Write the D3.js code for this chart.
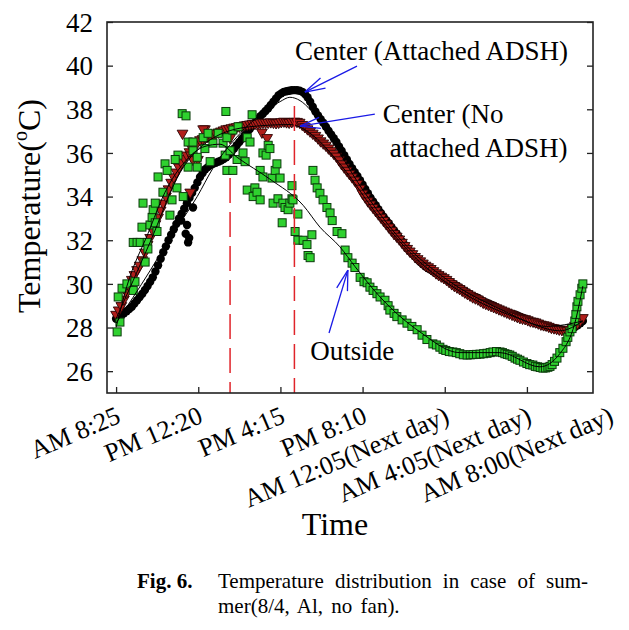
<!DOCTYPE html>
<html><head><meta charset="utf-8">
<script src="https://cdn.jsdelivr.net/npm/d3@7"></script>
<style>
body{margin:0;background:#fff}
svg{display:block}
svg text{font-family:"Liberation Serif","Times New Roman",serif !important;fill:#000}
</style>
</head><body>
<svg id="c" width="629" height="630"></svg>
<script>
// ---------------- data ----------------
const tickLabels = ["AM 8:25","PM 12:20","PM 4:15","PM 8:10","AM 12:05(Next day)","AM 4:05(Next day)","AM 8:00(Next day)"];
const tickMinutes = [0,235,470,705,940,1175,1410];
const yTicks = [26,28,30,32,34,36,38,40,42];

// sample times (minutes after AM 8:25)
const minutes = [0,7.5,15,22.5,30,37.5,45,52.5,60,67.5,75,82.5,90,97.5,105,112.5,120,127.5,135,142.5,150,157.5,165,172.5,180,187.5,195,202.5,210,217.5,225,232.5,240,247.5,255,262.5,270,277.5,285,292.5,300,307.5,315,322.5,330,337.5,345,352.5,360,367.5,375,382.5,390,397.5,405,412.5,420,427.5,435,442.5,450,457.5,465,472.5,480,487.5,495,502.5,510,517.5,525,532.5,540,547.5,555,562.5,570,577.5,585,592.5,600,607.5,615,622.5,630,637.5,645,652.5,660,667.5,675,682.5,690,697.5,705,712.5,720,727.5,735,742.5,750,757.5,765,772.5,780,787.5,795,802.5,810,817.5,825,832.5,840,847.5,855,862.5,870,877.5,885,892.5,900,907.5,915,922.5,930,937.5,945,952.5,960,967.5,975,982.5,990,997.5,1005,1012.5,1020,1027.5,1035,1042.5,1050,1057.5,1065,1072.5,1080,1087.5,1095,1102.5,1110,1117.5,1125,1132.5,1140,1147.5,1155,1162.5,1170,1177.5,1185,1192.5,1200,1207.5,1215,1222.5,1230,1237.5,1245,1252.5,1260,1267.5,1275,1282.5,1290,1297.5,1305,1312.5,1320,1327.5,1335];

const centerAttached = [
28.4,28.48,28.55,28.65,28.75,28.85,28.95,29.1,29.25,29.4,29.55,29.72,29.9,30.1,30.3,30.57,30.85,31.15,31.45,31.72,
32.0,32.25,32.5,32.75,33.0,33.22,33.45,33.7,33.95,34.17,34.4,34.65,34.9,35.08,35.25,35.35,35.45,35.5,35.55,35.6,
35.65,35.72,35.8,35.92,36.05,36.2,36.35,36.5,36.65,36.8,36.95,37.1,37.25,37.4,37.55,37.68,37.8,37.92,38.05,38.2,
38.35,38.5,38.65,38.73,38.8,38.83,38.85,38.87,38.88,38.87,38.85,38.8,38.7,38.55,38.35,38.12,37.9,37.72,37.55,37.38,
37.2,37.02,36.85,36.67,36.5,36.3,36.1,35.9,35.7,35.5,35.3,35.12,34.95,34.75,34.55,34.35,34.15,33.95,33.78,33.6,
33.42,33.25,33.08,32.92,32.78,32.6,32.45,32.3,32.1,31.95,31.8,31.65,31.5,31.37,31.25,31.12,31.0,30.9,30.8,30.72,
30.65,30.57,30.5,30.42,30.35,30.27,30.2,30.12,30.05,29.97,29.9,29.82,29.75,29.67,29.6,29.52,29.45,29.4,29.35,29.27,
29.2,29.15,29.1,29.05,29.0,28.92,28.85,28.8,28.75,28.7,28.65,28.62,28.6,28.55,28.5,28.45,28.4,28.35,28.3,28.25,
28.2,28.17,28.15,28.1,28.05,28.02,28.0,27.97,27.95,27.92,27.9,27.87,27.85,27.9,27.95,28.02,28.1,28.2,28.3];

const centerNoAttached = [
28.6,28.8,29.0,29.3,29.6,29.9,30.2,30.42,30.65,30.85,31.1,31.45,31.8,32.12,32.45,32.75,33.05,33.38,33.7,34.02,
34.35,34.65,34.9,35.12,35.35,35.55,35.75,35.9,36.05,36.2,36.35,36.48,36.6,36.65,36.7,36.75,36.8,36.85,36.9,36.95,
37.0,37.05,37.1,37.12,37.15,37.18,37.2,37.22,37.25,37.28,37.3,37.32,37.35,37.35,37.35,37.38,37.4,37.4,37.4,37.42,
37.4,37.38,37.4,37.43,37.45,37.42,37.4,37.43,37.45,37.44,37.4,37.3,37.2,37.1,37.0,36.9,36.8,36.68,36.55,36.45,
36.35,36.22,36.1,35.98,35.85,35.68,35.5,35.35,35.2,35.05,34.9,34.75,34.6,34.38,34.15,33.98,33.8,33.65,33.5,33.35,
33.2,33.05,32.9,32.75,32.6,32.45,32.3,32.18,32.05,31.9,31.75,31.62,31.5,31.38,31.25,31.15,31.05,30.95,30.85,30.78,
30.7,30.6,30.5,30.42,30.35,30.28,30.2,30.1,30.0,29.92,29.85,29.78,29.7,29.62,29.55,29.48,29.4,29.35,29.3,29.22,
29.15,29.1,29.05,29.0,28.95,28.9,28.85,28.8,28.75,28.7,28.65,28.6,28.55,28.5,28.45,28.42,28.4,28.35,28.3,28.28,
28.25,28.2,28.15,28.12,28.1,28.05,28.0,27.98,27.95,27.92,27.9,27.88,27.85,27.92,28.0,28.1,28.2,28.32,28.45];

// stray readings
const attachedStrayT = [203,209,206,220,186,199];
const attachedStrayV = [32.7,32.1,31.9,33.5,32.9,32.3];
const noAttachedStrayT = [212,214,254,326,417,432,220,234,249,190];
const noAttachedStrayV = [34.2,35.9,37.1,36.7,36.95,36.7,35.7,35.7,37.1,36.9];

const outsideT = [3,11,6,17,31,49,54,49,60,69,89,91,83,74,97,103,106,117,112,77,112,120,140,146,154,134,160,174,177,169,189,200,206,220,192,220,232,206,232,249,254,263,269,277,292,306,317,312,326,317,334,346,363,369,314,334,349,375,389,383,375,397,392,403,412,412,420,446,420,429,435,440,455,460,469,449,463,477,483,492,497,503,503,506,475,520,512,520,535,546,549,555,560,
563,569,575,583,592,603,612,618,632,646,655,663,675,683,698,709,718,726,735,746,755,769,778,783,795,803,818,832,846,861,875,889,906,916,926,935,943,953,963,973,983,993,1004,1013,1021,1031,1041,1051,1061,1070,1078,1088,1098,1105,1112,1119,1126,1133,1141,1148,1155,1165,1175,1183,1192,1199,1206,1213,1221,1228,1235,1241,1247,1254,1261,1269,1278,1287,1292,1298,1304,1312,1315,1318,1321,1327,1332,1335];
const outsideV = [27.8,28.25,29.4,29.8,30.0,29.7,30.1,31.9,31.9,31.9,31.9,31.6,31.0,32.6,32.7,33.05,33.4,32.4,32.8,33.7,33.7,34.9,35.5,35.2,33.15,34.2,33.85,34.4,35.9,35.7,37.8,37.7,36.5,36.5,34.0,36.1,35.8,35.35,35.35,36.7,36.2,36.9,35.6,36.45,36.9,36.45,36.7,35.9,36.1,35.2,35.2,35.7,36.0,35.6,37.9,37.05,37.2,36.7,37.75,36.5,34.3,34.4,34.0,34.2,33.85,35.2,34.9,34.85,36.0,35.9,36.35,36.2,35.2,35.5,34.85,33.7,33.9,33.7,33.5,33.4,33.7,34.5,33.9,33.85,32.8,33.2,32.4,32.0,32.0,31.8,31.3,31.2,32.25,
35.2,34.75,34.4,34.15,33.85,33.5,33.25,32.9,32.4,32.3,31.55,31.2,30.95,30.75,30.3,30.1,30.05,29.85,29.7,29.55,29.4,29.25,29.0,28.8,28.65,28.5,28.35,28.2,28.05,27.9,27.65,27.45,27.25,27.2,27.1,27.0,26.95,26.9,26.88,26.85,26.8,26.75,26.74,26.75,26.76,26.77,26.78,26.8,26.82,26.85,26.88,26.9,26.88,26.85,26.8,26.77,26.74,26.68,26.6,26.55,26.5,26.42,26.35,26.3,26.28,26.22,26.2,26.17,26.14,26.15,26.18,26.22,26.3,26.45,26.6,26.85,27.05,27.35,27.55,27.8,27.95,28.3,28.6,28.95,29.2,29.5,29.8,30.0];

// fitted trend curves (thin black lines)
const trendAttachedT = [0,97,154,232,277,355,412,469,497,526,557,592,706,821,946,1098,1232,1335];
const trendAttachedV = [28.2,30.6,32.1,34.0,35.3,36.9,37.75,38.35,38.55,38.4,37.95,37.2,34.3,31.9,30.2,28.85,28.05,28.3];
const trendNoAttachedT = [0,97,183,269,383,497,555,640,755,869,1012,1155,1269,1335];
const trendNoAttachedV = [28.4,31.9,35.1,36.6,37.2,37.3,36.9,35.5,33.0,31.0,29.4,28.4,27.85,28.3];
const trendOutsideT = [0,31,91,140,197,254,297,346,440,535,583,640,683,755,869,983,1098,1212,1269,1312,1335];
const trendOutsideV = [28.0,29.9,32.3,34.2,35.6,36.3,36.4,35.8,34.8,33.6,32.6,31.7,30.8,29.4,27.8,26.85,26.85,26.2,26.8,28.2,29.9];

// red dashed reference times and their top temperatures
const refTimes = [326,510];
const refTops = [34.85,38.15];

const seriesNames = ["Center (Attached ADSH)","Center (No","attached ADSH)","Outside"];

// ---------------- layout ----------------
const svg = d3.select("#c");
svg.append("rect").attr("width",629).attr("height",630).attr("fill","#fff");
const L = 107, R = 593, T = 22, B = 393;
const x = d3.scaleLinear().domain([-26,1364]).range([L,R]);
const y = d3.scaleLinear().domain([25,42]).range([B,T]);
const FONT = "Liberation Serif";

const g = svg.append("g");

// axes (ticks inward)
const yAxisL = g.append("g").attr("transform",`translate(${L},0)`)
  .call(d3.axisLeft(y).tickValues(yTicks).tickSize(-6).tickPadding(14).tickFormat(d3.format("d")));
yAxisL.attr("font-family",FONT);
yAxisL.select(".domain").remove();
yAxisL.selectAll("text").attr("font-size",27).attr("dy","0.34em");
yAxisL.selectAll("line").attr("stroke","#222").attr("stroke-width",1.3);

const yAxisR = g.append("g").attr("transform",`translate(${R},0)`)
  .call(d3.axisRight(y).tickValues(yTicks).tickSize(-6).tickFormat(""));
yAxisR.select(".domain").remove();
yAxisR.selectAll("line").attr("stroke","#222").attr("stroke-width",1.3);

const xAxis = g.append("g").attr("transform",`translate(0,${B})`)
  .call(d3.axisBottom(x).tickValues(tickMinutes.filter(t=>x(t)<=R)).tickSize(-6).tickFormat(""));
xAxis.select(".domain").remove();
xAxis.selectAll("line").attr("stroke","#222").attr("stroke-width",1.3);

// x tick labels (rotated)
g.append("g").attr("font-family",FONT).selectAll("text").data(tickLabels).join("text")
  .attr("transform",(d,i)=>`translate(${x(tickMinutes[i])+6},${B+29}) rotate(-23)`)
  .attr("text-anchor","end").attr("font-size",26).text(d=>d);

// plot area clip
svg.append("clipPath").attr("id","pa").append("rect").attr("x",L).attr("y",T).attr("width",R-L).attr("height",B-T);
const pg = g.append("g").attr("clip-path","url(#pa)");

// black circles
const attachedPts = minutes.map((t,i)=>[t,centerAttached[i]]).concat(attachedStrayT.map((t,i)=>[t,attachedStrayV[i]]));
pg.append("g").selectAll("circle").data(attachedPts).join("circle")
  .attr("cx",d=>x(d[0])).attr("cy",d=>y(d[1])).attr("r",4.2).attr("fill","#000");

// red down-triangles
const tri = d3.symbol(d3.symbolTriangle,50);
const noAttPts = minutes.map((t,i)=>[t,centerNoAttached[i]]).concat(noAttachedStrayT.map((t,i)=>[t,noAttachedStrayV[i]]));
pg.append("g").selectAll("path").data(noAttPts).join("path")
  .attr("d",tri).attr("transform",d=>`translate(${x(d[0])},${y(d[1])}) rotate(180)`)
  .attr("fill","#b01e1a").attr("stroke","#2a0504").attr("stroke-width",0.9);

// green squares
const outPts = outsideT.map((t,i)=>[t,outsideV[i]]);
pg.append("g").selectAll("rect").data(outPts).join("rect")
  .attr("x",d=>x(d[0])-4).attr("y",d=>y(d[1])-4).attr("width",8).attr("height",8)
  .attr("fill","#2fd12f").attr("stroke","#0b3a0b").attr("stroke-width",1);

// trend lines
const line = d3.line().x(d=>x(d[0])).y(d=>y(d[1])).curve(d3.curveMonotoneX);
[[trendAttachedT,trendAttachedV],[trendNoAttachedT,trendNoAttachedV],[trendOutsideT,trendOutsideV]].forEach(([ts,vs])=>{
  pg.append("path").datum(ts.map((t,i)=>[t,vs[i]])).attr("d",line)
    .attr("fill","none").attr("stroke","#000").attr("stroke-width",1);
});

// red dashed verticals
pg.append("g").selectAll("line").data(refTimes).join("line")
  .attr("x1",d=>x(d)).attr("x2",d=>x(d)).attr("y1",(d,i)=>y(refTops[i])).attr("y2",B)
  .attr("stroke","#e0242a").attr("stroke-width",1.5).attr("stroke-dasharray","25,9");

// frame
g.append("rect").attr("x",L).attr("y",T).attr("width",R-L).attr("height",B-T)
  .attr("fill","none").attr("stroke","#222").attr("stroke-width",1.6);

// annotations with blue arrows (positions in data units)
const arrows = [
  {from:[689,39.98], to:[540,38.79]},
  {from:[740,37.78], to:[526,37.23]},
  {from:[609,27.75], to:[663,30.63]}
];
const ag = g.append("g").attr("stroke","#1a1ae6").attr("stroke-width",1.3).attr("fill","none");
arrows.forEach(a=>{
  const x1=x(a.from[0]), y1=y(a.from[1]), x2=x(a.to[0]), y2=y(a.to[1]);
  ag.append("line").attr("x1",x1).attr("y1",y1).attr("x2",x2).attr("y2",y2);
  const ang = Math.atan2(y1-y2,x1-x2);
  [-0.27,0.27].forEach(da=>{
    ag.append("line").attr("x1",x2).attr("y1",y2)
      .attr("x2",x2+21*Math.cos(ang+da)).attr("y2",y2+21*Math.sin(ang+da));
  });
});
const labelPos = [[512,40.26],[763,37.37],[783,35.81],[555,26.51]];
g.append("g").attr("font-family",FONT).selectAll("text").data(seriesNames).join("text")
  .attr("x",(d,i)=>x(labelPos[i][0])).attr("y",(d,i)=>y(labelPos[i][1]))
  .attr("font-size",27).text(d=>d);

// axis titles
const yt = svg.append("text").attr("transform","translate(40,206) rotate(-90)")
  .attr("text-anchor","middle").attr("font-size",32);
yt.append("tspan").text("Temperature(");
yt.append("tspan").attr("font-size",20).attr("dy",-13).text("o");
yt.append("tspan").attr("dy",13).text("C)");
svg.append("text").attr("x",335).attr("y",535).attr("text-anchor","middle").attr("font-size",32).text("Time");

// caption (justified first line)
const cap = svg.append("g").attr("font-size",21);
cap.append("text").attr("x",137).attr("y",588).attr("font-weight","bold").text("Fig.  6.");
const words = ["Temperature","distribution","in","case","of","sum-"];
const wEls = words.map(w=>cap.append("text").attr("y",588).text(w));
const widths = wEls.map(e=>e.node().getComputedTextLength());
const x0 = 218, x1 = 588;
const gap = (x1-x0-d3.sum(widths))/(words.length-1);
let cx = x0;
wEls.forEach((e,i)=>{ e.attr("x",cx); cx += widths[i]+gap; });
cap.append("text").attr("x",218).attr("y",613).attr("word-spacing",3).text("mer(8/4, Al, no fan).");
</script>
</body></html>
